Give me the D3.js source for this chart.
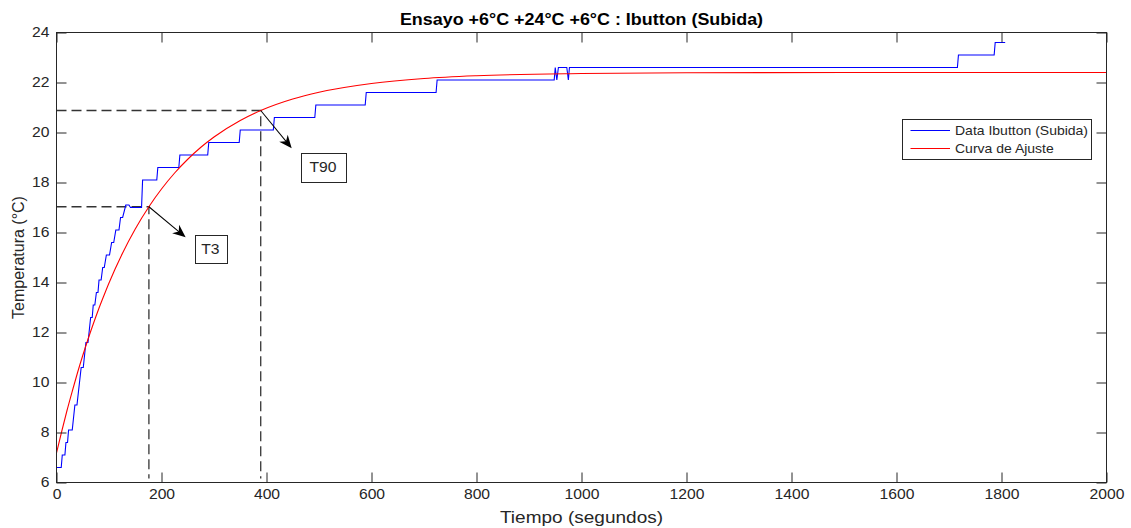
<!DOCTYPE html>
<html><head><meta charset="utf-8">
<script src="https://cdn.jsdelivr.net/npm/d3@7"></script>
<style>body{margin:0;background:#fff;}svg{display:block;font-family:"Liberation Sans",Arial,sans-serif;}</style>
</head><body><svg id="c" width="1131" height="528"></svg>
<script>
// ---- data ----
const xTicks = [0,200,400,600,800,1000,1200,1400,1600,1800,2000];
const yTicks = [6,8,10,12,14,16,18,20,22,24];
const blueTime = [0,9,11,16,18,21,23,30,35,39,47,51,56,60,65,68,70,73,76,79,81,85,88,91,95,101,105,109,113,119,122,126,132,138,141,162,164,191,193,233,235,288,290,348,350,413,415,492,494,588,590,723,725,948,950,953,956,972,975,977,1716,1718,1786,1788,1807];
const blueTemp = [6.6,6.6,7.1,7.1,7.6,7.6,8.1,8.1,9.1,9.1,10.6,10.6,11.6,11.6,12.6,12.6,13.1,13.1,13.6,13.6,14.1,14.1,14.6,14.6,15.1,15.1,15.6,15.6,16.1,16.1,16.6,16.6,17.1,17.1,17.0,17.0,18.1,18.1,18.6,18.6,19.1,19.1,19.6,19.6,20.1,20.1,20.6,20.6,21.1,21.1,21.6,21.6,22.1,22.1,22.6,22.1,22.6,22.6,22.1,22.6,22.6,23.1,23.1,23.6,23.6];
const fitTime = [0,10,20,30,40,50,60,70,80,90,100,125,150,176,200,225,250,275,300,350,389,450,500,600,700,800,1000,1200,1500,2000];
const fitTemp = [7.18,8.05,8.88,9.65,10.39,11.08,11.73,12.34,12.92,13.46,13.98,15.14,16.14,17.03,17.74,18.38,18.93,19.41,19.82,20.48,20.88,21.34,21.61,21.96,22.16,22.27,22.36,22.39,22.40,22.40];
const markLabels = ["T3","T90"];
const markTime = [176,389];
const markTemp = [17.03,20.88];
const arrowTipTime = [246,448];
const arrowTipTemp = [15.81,19.37];
const boxTime = [263,465];   // left edge
const boxTime2 = [323,550];  // right edge
const boxTempTop = [15.92,19.2];
const boxTempBot = [14.8,18.04];
const seriesNames = ["Data Ibutton (Subida)","Curva de Ajuste"];
const seriesColors = ["#0000ff","#ff0000"];
const titleText = "Ensayo +6°C +24°C +6°C : Ibutton (Subida)";
const xLabel = "Tiempo (segundos)";
const yLabel = "Temperatura (°C)";

// ---- layout ----
const L=56.5, T=32.5, W=1050, H=450;
const svg = d3.select("#c");
const x = d3.scaleLinear().domain([0,2000]).range([L,L+W]);
const y = d3.scaleLinear().domain([6,24]).range([T+H,T]);
const axisCol="#262626";
const SX=1.12; // horizontal text stretch

function stext(g, px, py, txt, size, anchor, weight){
  const t = g.append("g").attr("transform",`translate(${px},${py}) scale(${SX},1)`)
    .append("text").attr("font-size",size).attr("fill",axisCol)
    .attr("text-anchor",anchor||"start").attr("font-weight",weight||"normal").text(txt);
  return t;
}

svg.append("rect").attr("x",L).attr("y",T).attr("width",W).attr("height",H).attr("fill","#fff");

// data lines
svg.append("clipPath").attr("id","cp").append("rect").attr("x",L).attr("y",T).attr("width",W).attr("height",H);
const fitData = fitTime.map((t,i)=>[t,fitTemp[i]]);
const blueData = blueTime.map((t,i)=>[t,blueTemp[i]]);
const lineG = svg.append("g").attr("clip-path","url(#cp)");

// dashed guide lines
markTime.forEach((t,i)=>{
  lineG.append("path").attr("d",`M${x(0)},${y(markTemp[i])}L${x(t)},${y(markTemp[i])}L${x(t)},${y(6)-4}`)
    .attr("fill","none").attr("stroke","#333").attr("stroke-width",1.3).attr("stroke-dasharray","10,5");
});

lineG.append("path").datum(blueData).attr("d",d3.line().x(d=>x(d[0])).y(d=>y(d[1])))
  .attr("fill","none").attr("stroke",seriesColors[0]).attr("stroke-width",1.1);
lineG.append("path").datum(fitData).attr("d",d3.line().x(d=>x(d[0])).y(d=>y(d[1])).curve(d3.curveMonotoneX))
  .attr("fill","none").attr("stroke",seriesColors[1]).attr("stroke-width",1.1);

// axes
svg.append("rect").attr("x",L).attr("y",T).attr("width",W).attr("height",H).attr("fill","none").attr("stroke",axisCol).attr("stroke-width",1);
const bx = d3.axisBottom(x).tickValues(xTicks).tickSizeInner(-10).tickSizeOuter(0).tickFormat(d3.format("d"));
const gx = svg.append("g").attr("transform",`translate(0,${T+H})`).call(bx);
const tx = d3.axisTop(x).tickValues(xTicks).tickSizeInner(-10).tickSizeOuter(0).tickFormat("");
svg.append("g").attr("transform",`translate(0,${T})`).call(tx);
const ly = d3.axisLeft(y).tickValues(yTicks).tickSizeInner(-10).tickSizeOuter(0).tickFormat(d3.format("d"));
const gy = svg.append("g").attr("transform",`translate(${L},0)`).call(ly);
const ry = d3.axisRight(y).tickValues(yTicks).tickSizeInner(-10).tickSizeOuter(0).tickFormat("");
svg.append("g").attr("transform",`translate(${L+W},0)`).call(ry);
svg.selectAll(".domain").remove();
svg.selectAll(".tick line").attr("stroke",axisCol);
svg.selectAll(".tick text").attr("fill",axisCol).attr("font-size",14).attr("font-family","Liberation Sans, Arial, sans-serif");
gx.selectAll(".tick text").each(function(){
  d3.select(this).attr("transform",`translate(0,7) scale(${SX},1)`).attr("x",0).attr("y",0).attr("dy","0.71em");
});
gy.selectAll(".tick text").each(function(){
  d3.select(this).attr("x",0).attr("transform",`translate(-7,0) scale(${SX},1)`);
});

// annotations
const an = svg.append("g");
markTime.forEach((t,i)=>{
  const x0=x(t), y0=y(markTemp[i]), x1=x(arrowTipTime[i]), y1=y(arrowTipTemp[i]);
  const ang=Math.atan2(y1-y0,x1-x0), len=Math.hypot(x1-x0,y1-y0);
  const g=an.append("g").attr("transform",`translate(${x0},${y0}) rotate(${ang*180/Math.PI})`);
  g.append("line").attr("x1",0).attr("y1",0).attr("x2",len-5).attr("y2",0).attr("stroke","#000").attr("stroke-width",1);
  g.append("path").attr("d",`M${len},0L${len-13},-5.5L${len-9},0L${len-13},5.5Z`).attr("fill","#000");
  const bx0=x(boxTime[i]), bx1=x(boxTime2[i]), by0=y(boxTempTop[i]), by1=y(boxTempBot[i]);
  an.append("rect").attr("x",Math.round(bx0)+0.5).attr("y",Math.round(by0)+0.5).attr("width",Math.round(bx1-bx0)).attr("height",Math.round(by1-by0))
    .attr("fill","#fff").attr("stroke",axisCol).attr("stroke-width",1);
  stext(an,(bx0+bx1)/2,(by0+by1)/2+5,markLabels[i],14,"middle");
});

// legend
const lg = svg.append("g");
lg.append("rect").attr("x",902.5).attr("y",119.5).attr("width",189).attr("height",40).attr("fill","#fff").attr("stroke",axisCol).attr("stroke-width",1);
seriesNames.forEach((n,i)=>{
  const yy=130.5+i*18;
  lg.append("line").attr("x1",910.5).attr("x2",950).attr("y1",yy).attr("y2",yy).attr("stroke",seriesColors[i]).attr("stroke-width",1.1);
  stext(lg,955,yy+4.5,n,12.5,"start");
});

// titles
stext(svg,581.5,25,titleText,16,"middle","bold").attr("fill","#000");
stext(svg,581.5,523,xLabel,17,"middle");
svg.append("text").attr("transform",`translate(24,${T+H/2}) rotate(-90)`).attr("text-anchor","middle")
  .attr("font-size",16).attr("fill",axisCol).text(yLabel);
</script></body></html>
